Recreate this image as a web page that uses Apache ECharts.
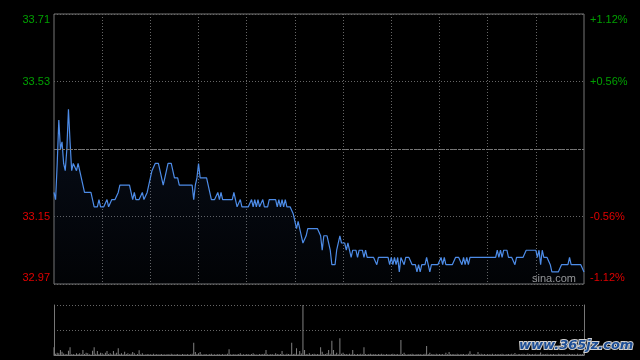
<!DOCTYPE html>
<html><head><meta charset="utf-8">
<script src="https://cdn.jsdelivr.net/npm/echarts@6/dist/echarts.min.js"></script>
<style>html,body{margin:0;padding:0;background:#000;}#c{width:640px;height:360px;}</style>
</head><body><div id="c"></div>
<script>
const preClose = 33.34;
const pctTicks = [-112, -56, 0, 56, 112]; // hundredths of a percent
const leftTickLabels = ['32.97', '33.15', '', '33.53', '33.71'];
const rightTickLabels = ['-1.12%', '-0.56%', '', '+0.56%', '+1.12%'];

const prices = [
33.22,33.20,33.30,33.42,33.34,33.36,33.30,33.28,33.34,33.45,
33.36,33.28,33.30,33.30,33.28,33.30,33.28,33.26,33.24,33.22,
33.22,33.22,33.22,33.22,33.20,33.18,33.18,33.18,33.20,33.18,
33.18,33.18,33.18,33.20,33.18,33.18,33.20,33.20,33.20,33.20,
33.22,33.24,33.24,33.24,33.24,33.24,33.24,33.24,33.22,33.20,
33.22,33.20,33.20,33.20,33.20,33.22,33.20,33.20,33.22,33.22,
33.26,33.28,33.28,33.30,33.30,33.30,33.28,33.28,33.24,33.26,
33.28,33.30,33.30,33.30,33.30,33.26,33.26,33.26,33.24,33.24,
33.24,33.24,33.24,33.24,33.24,33.24,33.24,33.20,33.24,33.26,
33.30,33.26,33.26,33.26,33.26,33.26,33.26,33.22,33.20,33.20,
33.20,33.20,33.22,33.20,33.22,33.20,33.20,33.20,33.20,33.20,
33.20,33.20,33.22,33.20,33.18,33.18,33.20,33.18,33.18,33.18,
33.18,33.18,33.18,33.20,33.18,33.20,33.18,33.20,33.18,33.18,
33.20,33.18,33.18,33.18,33.20,33.20,33.20,33.20,33.20,33.18,
33.20,33.18,33.20,33.18,33.20,33.18,33.18,33.18,33.18,33.16,
33.14,33.12,33.14,33.14,33.10,33.08,33.08,33.10,33.12,33.12,
33.12,33.12,33.12,33.12,33.12,33.12,33.10,33.06,33.10,33.10,
33.10,33.10,33.06,33.02,33.02,33.02,33.06,33.06,33.10,33.08,
33.08,33.08,33.06,33.08,33.06,33.04,33.06,33.06,33.06,33.04,
33.06,33.06,33.06,33.04,33.06,33.04,33.04,33.04,33.04,33.04,
33.04,33.02,33.04,33.04,33.04,33.04,33.04,33.04,33.04,33.02,
33.04,33.02,33.04,33.02,33.04,33.00,33.04,33.04,33.02,33.04,
33.04,33.04,33.04,33.02,33.02,33.02,33.00,33.02,33.00,33.02,
33.02,33.02,33.04,33.02,33.00,33.02,33.02,33.02,33.02,33.02,
33.02,33.04,33.02,33.04,33.02,33.02,33.02,33.02,33.02,33.02,
33.04,33.04,33.04,33.04,33.02,33.04,33.02,33.04,33.02,33.04,
33.04,33.04,33.04,33.04,33.04,33.04,33.04,33.04,33.04,33.04,
33.04,33.04,33.04,33.04,33.04,33.04,33.06,33.04,33.06,33.04,
33.06,33.06,33.06,33.04,33.04,33.04,33.04,33.02,33.04,33.04,
33.04,33.04,33.04,33.04,33.06,33.06,33.06,33.06,33.06,33.06,
33.06,33.04,33.06,33.02,33.06,33.04,33.04,33.04,33.04,33.02,
33.00,33.00,33.00,33.00,33.00,33.00,33.02,33.02,33.02,33.02,
33.02,33.04,33.02,33.02,33.02,33.02,33.02,33.02,33.02,33.02,
33.00
];

const volumes = [
77,12,23,17,50,33,15,8,10,43,
77,8,10,6,17,9,17,7,50,10,
23,17,8,6,43,77,12,40,9,23,
17,8,23,40,10,17,8,40,12,23,
67,9,17,7,33,10,17,8,12,30,
17,6,9,47,8,17,6,5,10,7,
8,5,12,6,9,5,7,10,6,8,
5,9,6,12,7,5,8,10,6,5,
9,7,6,10,5,8,12,123,30,10,
17,30,8,6,10,7,5,9,12,6,
8,5,10,7,6,9,5,8,12,57,
8,6,10,5,7,9,17,6,8,5,
10,7,6,9,17,8,5,6,10,7,
9,12,50,8,6,10,7,5,17,9,
8,10,40,7,6,12,9,8,123,10,
12,67,8,40,15,500,50,10,8,17,
6,9,12,7,10,8,77,33,9,10,
17,50,12,143,50,10,23,8,167,12,
23,9,10,7,12,8,50,9,6,10,
8,12,7,77,10,6,9,12,8,7,
10,6,9,8,12,7,5,10,8,6,
9,12,7,8,10,6,150,9,23,8,
6,10,7,12,8,5,9,7,10,6,
8,12,90,10,23,7,9,6,12,8,
10,7,9,6,23,8,30,10,7,9,
6,12,8,7,10,9,6,8,12,37,
7,10,9,6,30,8,12,7,9,6,
10,8,7,12,6,9,8,10,7,12,
8,6,9,10,7,12,8,20,6,9,
10,7,12,8,6,15,9,7,10,8,
12,6,9,25,8,10,7,12,6,9,
8,10,7,6,12,9,8,10,7,6,
12,9,8,10,7,6,12,8,9,10,
40
];

// trading minutes (HK session): 09:30-12:00, 13:01-16:00
const times = [];
function pad(n){ return (n < 10 ? '0' : '') + n; }
for (let m = 9 * 60 + 30; m <= 12 * 60; m++) times.push(pad(Math.floor(m / 60)) + ':' + pad(m % 60));
for (let m = 13 * 60 + 1; m <= 16 * 60; m++) times.push(pad(Math.floor(m / 60)) + ':' + pad(m % 60));

const priceMin = preClose * (1 + pctTicks[0] / 10000);
const priceMax = preClose * (1 + pctTicks[4] / 10000);

const GREEN = '#00a000', RED = '#e00000';
const FONT = '"Liberation Sans", Arial, sans-serif';

function labelFmt(labels) {
  return function (v) {
    const i = pctTicks.indexOf(Math.round(v));
    if (i < 0 || labels[i] === '') return '';
    const col = v > 0 ? 'g' : 'r';
    const pos = i === 4 ? 't' : (i === 0 ? 'b' : 'm');
    return '{' + col + pos + '|' + labels[i] + '}';
  };
}
function richSet() {
  const base = { fontSize: 11, fontFamily: FONT };
  return {
    gt: Object.assign({ color: GREEN, padding: [12, 0, 0, 0] }, base),
    gm: Object.assign({ color: GREEN }, base),
    rm: Object.assign({ color: RED }, base),
    rb: Object.assign({ color: RED, padding: [0, 0, 12, 0] }, base)
  };
}

const chart = echarts.init(document.getElementById('c'), null, { renderer: 'canvas' });
chart.setOption({
  backgroundColor: '#000',
  animation: false,
  grid: [
    { left: 54, right: 56, top: 14, height: 270, show: true, borderColor: '#777', borderWidth: 1, backgroundColor: 'transparent' },
    { left: 54, right: 56, top: 305, height: 50, show: false }
  ],
  xAxis: [
    { type: 'category', gridIndex: 0, data: times, boundaryGap: false,
      axisLine: { show: false }, axisTick: { show: false }, axisLabel: { show: false },
      splitLine: { show: true, interval: function (i) { return i % 30 === 0 && i > 0 && i < times.length - 1; },
        lineStyle: { color: '#666', type: [1, 2], width: 1 } } },
    { type: 'category', gridIndex: 1, data: times, boundaryGap: false,
      axisLine: { show: true, lineStyle: { color: '#777' } }, axisTick: { show: false }, axisLabel: { show: false },
      splitLine: { show: false } }
  ],
  yAxis: [
    { type: 'value', gridIndex: 0, position: 'left', min: pctTicks[0], max: pctTicks[4], interval: 56,
      axisLine: { show: false }, axisTick: { show: false },
      splitLine: { show: true, lineStyle: { color: '#666', type: [1, 2], width: 1 } },
      axisLabel: { margin: 4, formatter: labelFmt(leftTickLabels), rich: richSet() } },
    { type: 'value', gridIndex: 0, position: 'right', min: pctTicks[0], max: pctTicks[4], interval: 56,
      axisLine: { show: false }, axisTick: { show: false }, splitLine: { show: false },
      axisLabel: { margin: 6, formatter: labelFmt(rightTickLabels), rich: richSet() } },
    { type: 'value', gridIndex: 0, min: priceMin, max: priceMax, show: false, splitLine: { show: false } },
    { type: 'value', gridIndex: 1, position: 'left', min: 0, max: 500, interval: 250,
      axisLine: { show: true, lineStyle: { color: '#777' } }, axisTick: { show: false }, axisLabel: { show: false },
      splitLine: { show: true, lineStyle: { color: '#666', type: [1, 2], width: 1 } } },
    { type: 'value', gridIndex: 1, position: 'right', min: 0, max: 500, interval: 250,
      axisLine: { show: true, lineStyle: { color: '#777' } }, axisTick: { show: false }, axisLabel: { show: false },
      splitLine: { show: false } }
  ],
  series: [
    { type: 'line', xAxisIndex: 0, yAxisIndex: 2, data: prices, showSymbol: false, symbol: 'none',
      lineStyle: { color: '#4d8ce8', width: 1.2 },
      areaStyle: { color: new echarts.graphic.LinearGradient(0, 0, 0, 1, [
        { offset: 0, color: 'rgba(40,70,130,0.28)' }, { offset: 1, color: 'rgba(40,70,130,0.06)' }]) },
      markLine: { silent: true, symbol: 'none', label: { show: false },
        lineStyle: { color: '#777', type: [3, 1], width: 1 }, data: [{ yAxis: preClose }] } },
    { type: 'bar', xAxisIndex: 1, yAxisIndex: 3, data: volumes, barWidth: 1,
      itemStyle: { color: '#808080' } }
  ],
  graphic: [
    { type: 'text', left: 532, top: 273, silent: true,
      style: { text: 'sina.com', fill: '#9a9a9a', font: '11px ' + FONT } },
    { type: 'text', left: 518, top: 338, silent: true, z: 100,
      style: { text: 'www.365jz.com', fill: '#1d4e96', stroke: '#d0d0d0', lineWidth: 2,
        font: 'italic bold 13px "DejaVu Sans", sans-serif' } }
  ]
});
</script>
</body></html>
